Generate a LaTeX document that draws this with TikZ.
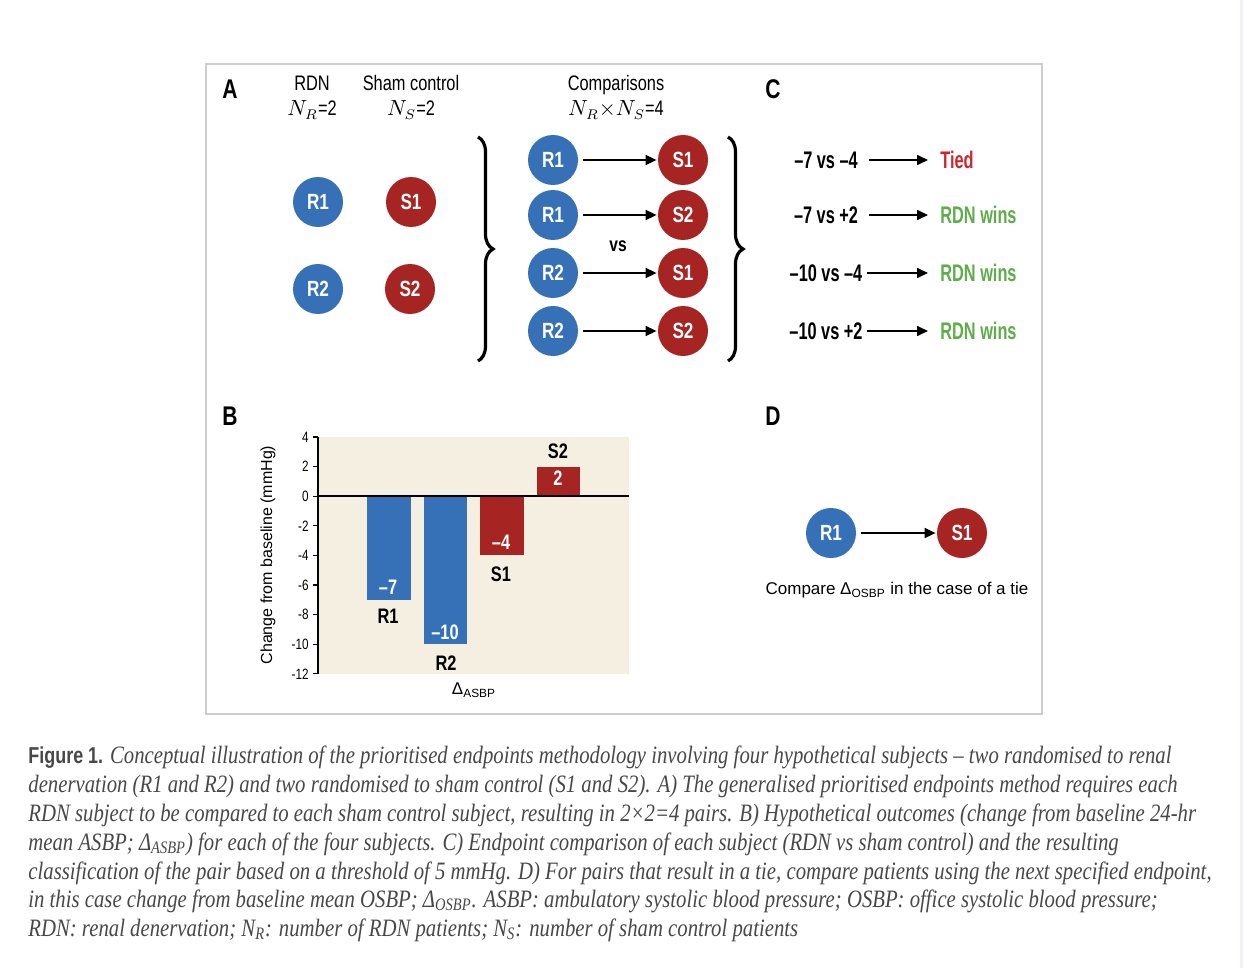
\documentclass[tikz,border=0pt]{standalone}
\usepackage{fontspec}
\setmainfont{Liberation Serif}
\setsansfont{Liberation Sans}
\newfontfamily\condfont[FakeStretch=0.78]{Liberation Sans}
\newfontfamily\narrowfont[FakeStretch=0.68]{Liberation Sans}
\newfontfamily\capfont[FakeStretch=0.83]{Liberation Serif}
\usetikzlibrary{arrows.meta,decorations.pathreplacing,positioning}

\definecolor{rdnblue}{RGB}{54,112,182}
\definecolor{shamred}{RGB}{166,36,34}
\definecolor{tiedred}{RGB}{204,38,46}
\definecolor{winsgreen}{RGB}{94,172,74}
\definecolor{plotbg}{RGB}{244,239,225}
\definecolor{framegray}{RGB}{205,205,205}
\definecolor{capgray}{RGB}{72,72,72}

\tikzset{
  subj/.style={circle,minimum size=25pt,inner sep=0pt,text=white,
    font=\condfont\bfseries\fontsize{11}{11}\selectfont},
  rdn/.style={subj,fill=rdnblue},
  sham/.style={subj,fill=shamred},
  cmp/.style={-{Triangle[length=5.5pt,width=5pt]},line width=0.8pt},
  panel/.style={font=\condfont\bfseries\fontsize{13.5}{13.5}\selectfont},
  head/.style={anchor=base,inner sep=0pt,font=\condfont\fontsize{10.5}{11.5}\selectfont},
  pair/.style={inner sep=2pt,font=\narrowfont\bfseries\fontsize{12}{12}\selectfont},
  barval/.style={text=white,font=\condfont\bfseries\fontsize{10.5}{10.5}\selectfont},
  barname/.style={font=\condfont\bfseries\fontsize{10.5}{10.5}\selectfont},
  capline/.style={anchor=base west,inner sep=0pt,text=capgray,
    font=\capfont\itshape\fontsize{12.5}{12.5}\selectfont},
  brace/.style={decorate,decoration={brace,amplitude=7.5pt},line width=1.6pt}
}

\begin{document}
\begin{tikzpicture}[x=0.5pt,y=-0.5pt]
\useasboundingbox (0,0) rectangle (1246,968);
\fill[white] (0,0) rectangle (1246,968);
\draw[blue!6,line width=1.5pt] (1241,0)--(1241,968);
\draw[framegray,line width=1pt] (206,64) rectangle (1042,714);

% A
\node[panel] (pa) at (230,89) {A};
\node[head] (hr) at (312,91) {RDN};
\node[head] (nr) at (312,116) {$N_R$=2};
\node[head] (hs) at (411,91) {Sham control};
\node[head] (ns) at (411,116) {$N_S$=2};
\node[head] (hc) at (616,91) {Comparisons};
\node[head] (nc) at (616,116) {$N_R{\times}N_S$=4};
\node[rdn] (r1) at (318,202) {R1};
\node[rdn] (r2) at (318,289) {R2};
\node[sham] (s1) at (411,202) {S1};
\node[sham] (s2) at (410,289) {S2};
\draw[brace] (478,137)--(478,361);
\node[rdn] (ra) at (553,160) {R1};
\node[rdn] (rb) at (553,215) {R1};
\node[rdn] (rc) at (553,273) {R2};
\node[rdn] (rd) at (553,331) {R2};
\node[sham] (sa) at (683,160) {S1};
\node[sham] (sb) at (683,215) {S2};
\node[sham] (sc) at (683,273) {S1};
\node[sham] (sd) at (683,331) {S2};
\foreach \a/\b in {ra/sa,rb/sb,rc/sc,rd/sd}
  \draw[cmp,shorten <=2.5pt,shorten >=0.5pt] (\a)--(\b);
\node[font=\condfont\bfseries\fontsize{10}{10}\selectfont] (vs) at (618,246) {vs};
\draw[brace] (728,137)--(728,361);

% C
\node[panel] (pc) at (773,89) {C};
\node[pair] (ca) at (826,160) {–7 vs –4};
\node[pair] (cb) at (826,215) {–7 vs +2};
\node[pair] (cc) at (826,273) {–10 vs –4};
\node[pair] (cd) at (826,331) {–10 vs +2};
\node[pair,anchor=west,text=tiedred] (wa) at (936,160) {Tied};
\node[pair,anchor=west,text=winsgreen] (wb) at (936,215) {RDN wins};
\node[pair,anchor=west,text=winsgreen] (wc) at (936,273) {RDN wins};
\node[pair,anchor=west,text=winsgreen] (wd) at (936,331) {RDN wins};
\draw[cmp,shorten >=4pt] (869,160)--(wa.west);
\draw[cmp,shorten >=4pt] (869,215)--(wb.west);
\draw[cmp,shorten >=4pt] (cc.east)--(wc.west);
\draw[cmp,shorten >=4pt] (cd.east)--(wd.west);

% B
\node[panel] (pb) at (230,416) {B};
\begin{scope}[shift={(318,496.2)},y=7.4pt]
\fill[plotbg] (0,-12) rectangle (311,4);
\fill[rdnblue] (49,0) rectangle (93,-7);
\fill[rdnblue] (106,0) rectangle (149,-10);
\fill[shamred] (162,0) rectangle (206,-4);
\fill[shamred] (219,0) rectangle (262,2);
\draw[line width=0.7pt] (0,-12)--(0,4);
\foreach \v in {-12,-10,...,4}{
  \draw[line width=0.6pt] (-5,\v)--(0,\v);
  \node[anchor=east,inner sep=0pt,font=\condfont\fontsize{7.5}{7.5}\selectfont] at (-9,\v) {\v};
}
\draw[line width=1pt] (0,0)--(311,0);
\node[barval] (va) at (70,-6.15) {–7};
\node[barval] (vb) at (127,-9.2) {–10};
\node[barval] (vc) at (183,-3.1) {–4};
\node[barval] (vd) at (240,1.23) {2};
\node[barname] (na) at (70,-8.13) {R1};
\node[barname] (nb) at (128,-11.25) {R2};
\node[barname] (nc) at (183,-5.26) {S1};
\node[barname] (nd) at (240,3.05) {S2};
\end{scope}
\node[rotate=90,font=\sffamily\fontsize{8}{8}\selectfont] (ylab) at (268,555) {Change from baseline (mmHg)};
\node[font=\sffamily\fontsize{8.5}{8.5}\selectfont] (xlab) at (474,690) {Δ\textsubscript{ASBP}};

% D
\node[panel] (pd) at (773,416) {D};
\node[rdn] (rt) at (831,533) {R1};
\node[sham] (st) at (962,533) {S1};
\draw[cmp,shorten <=2.5pt,shorten >=0.5pt] (rt)--(st);
\node[font=\sffamily\fontsize{8.5}{8.5}\selectfont] (tie) at (897,590) {Compare Δ\textsubscript{OSBP} in the case of a tie};

% caption
\node[capline] (l1) at (28,763) {{\condfont\upshape\bfseries\fontsize{11.5}{11.5}\selectfont Figure 1.} Conceptual illustration of the prioritised endpoints methodology involving four hypothetical subjects – two randomised to renal};
\node[capline] (l2) at (28,792) {denervation (R1 and R2) and two randomised to sham control (S1 and S2). A) The generalised prioritised endpoints method requires each};
\node[capline] (l3) at (28,821) {RDN subject to be compared to each sham control subject, resulting in 2×2=4 pairs. B) Hypothetical outcomes (change from baseline 24-hr};
\node[capline] (l4) at (28,850) {mean ASBP; Δ\textsubscript{ASBP}) for each of the four subjects. C) Endpoint comparison of each subject (RDN vs sham control) and the resulting};
\node[capline] (l5) at (28,879) {classification of the pair based on a threshold of 5 mmHg. D) For pairs that result in a tie, compare patients using the next specified endpoint,};
\node[capline] (l6) at (28,907) {in this case change from baseline mean OSBP; Δ\textsubscript{OSBP}. ASBP: ambulatory systolic blood pressure; OSBP: office systolic blood pressure;};
\node[capline] (l7) at (28,936) {RDN: renal denervation; N\textsubscript{R}: number of RDN patients; N\textsubscript{S}: number of sham control patients};
\end{tikzpicture}
\end{document}
